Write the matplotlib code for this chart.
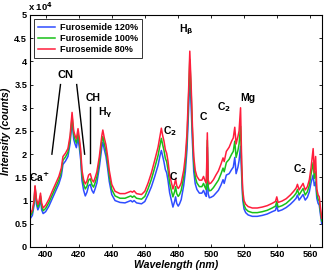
import numpy as np
import matplotlib
matplotlib.use('Agg')
import matplotlib.pyplot as plt

plt.rcParams['font.family'] = ['Liberation Sans', 'DejaVu Sans']
plt.rcParams['font.weight'] = 'bold'
plt.rcParams['mathtext.default'] = 'bf'

# wavelength (nm) and intensity (x 1e4 counts)
wavelength = [390.5, 392.0, 393.0, 393.6, 394.4, 395.3, 396.0, 396.9, 397.6, 398.5,
              400.0, 402.0, 404.0, 406.0, 408.0, 409.5, 410.5, 412.0, 413.5, 414.8,
              416.0, 417.0, 417.8, 418.6, 419.6, 420.4, 421.2, 422.0, 423.0, 424.0,
              425.0, 426.0, 427.0, 428.0, 429.0, 430.0, 431.0, 432.5, 434.0, 434.6,
              435.5, 436.5, 437.5, 438.5, 440.0, 442.0, 445.0, 448.0, 450.0, 451.5,
              452.5, 453.5, 455.0, 458.0, 460.0, 462.0, 464.0, 466.0, 468.0, 469.2,
              470.0, 470.8, 471.6, 472.4, 473.2, 474.0, 475.0, 476.0, 477.0, 478.0,
              478.6, 479.3, 480.2, 481.0, 482.0, 483.5, 484.5, 485.5, 486.5, 487.2,
              488.0, 488.8, 489.6, 490.5, 491.5, 493.0, 494.5, 495.5, 496.5, 497.2,
              497.8, 498.3, 499.0, 500.0, 501.5, 503.0, 504.5, 506.0, 507.3, 508.0,
              509.3, 511.0, 512.5, 513.5, 514.4, 515.2, 516.3, 517.0, 517.9, 518.6,
              519.2, 520.0, 521.0, 522.5, 525.0, 528.0, 531.0, 534.0, 537.0, 539.0,
              539.8, 540.6, 543.0, 545.5, 548.0, 550.0, 551.5, 552.3, 553.3, 554.5,
              555.7, 557.0, 558.3, 559.5, 560.5, 561.8, 562.5, 563.3, 564.0, 564.8,
              565.5, 566.2, 567.0]

furo_80 = [0.70, 0.80, 1.00, 1.32, 1.05, 0.92, 0.98, 1.16, 0.95, 0.84,
           0.90, 1.03, 1.20, 1.36, 1.52, 1.70, 1.95, 2.02, 2.12, 2.40,
           2.90, 2.50, 2.40, 2.33, 2.55, 2.35, 2.10, 1.65, 1.45, 1.36,
           1.42, 1.55, 1.58, 1.45, 1.40, 1.50, 1.62, 1.95, 2.40, 2.52,
           2.35, 2.20, 1.95, 1.65, 1.35, 1.20, 1.15, 1.15, 1.18, 1.20,
           1.18, 1.21, 1.15, 1.13, 1.20, 1.38, 1.60, 1.87, 2.15, 2.40,
           2.56, 2.40, 2.28, 2.10, 2.02, 1.85, 1.55, 1.40, 1.25, 1.36,
           1.47, 1.32, 1.26, 1.30, 1.38, 1.65, 1.95, 2.45, 3.40, 4.22,
           3.50, 2.60, 1.95, 1.65, 1.52, 1.44, 1.44, 1.52, 1.42, 1.38,
           2.46, 1.45, 1.36, 1.38, 1.45, 1.55, 1.64, 1.78, 1.92, 1.84,
           2.06, 2.15, 2.28, 2.35, 2.58, 2.22, 2.38, 2.50, 3.00, 1.80,
           1.23, 1.00, 0.92, 0.87, 0.84, 0.84, 0.86, 0.89, 0.94, 0.98,
           1.08, 0.96, 0.99, 1.04, 1.12, 1.20, 1.27, 1.35, 1.23, 1.30,
           1.37, 1.23, 1.30, 1.45, 1.70, 2.12, 1.60, 1.95, 1.25, 1.12,
           1.08, 0.85, 0.62]

furo_100 = [0.65, 0.75, 0.95, 1.30, 1.00, 0.86, 0.92, 1.10, 0.88, 0.78,
            0.83, 0.96, 1.12, 1.28, 1.44, 1.62, 1.87, 1.94, 2.04, 2.32,
            2.82, 2.42, 2.32, 2.24, 2.45, 2.25, 2.00, 1.55, 1.35, 1.25,
            1.31, 1.44, 1.47, 1.34, 1.29, 1.39, 1.51, 1.84, 2.28, 2.38,
            2.22, 2.07, 1.82, 1.53, 1.24, 1.10, 1.05, 1.05, 1.08, 1.10,
            1.07, 1.10, 1.05, 1.03, 1.09, 1.26, 1.46, 1.71, 1.97, 2.20,
            2.34, 2.20, 2.08, 1.91, 1.84, 1.67, 1.38, 1.22, 1.08, 1.19,
            1.30, 1.15, 1.09, 1.13, 1.22, 1.50, 1.80, 2.30, 3.25, 4.04,
            3.35, 2.46, 1.81, 1.51, 1.38, 1.30, 1.30, 1.37, 1.28, 1.24,
            2.30, 1.30, 1.21, 1.22, 1.28, 1.36, 1.44, 1.57, 1.70, 1.62,
            1.82, 1.89, 2.00, 2.06, 2.28, 1.93, 2.08, 2.22, 2.60, 1.65,
            1.12, 0.90, 0.82, 0.77, 0.74, 0.74, 0.76, 0.79, 0.84, 0.88,
            0.98, 0.86, 0.89, 0.94, 1.02, 1.09, 1.16, 1.24, 1.12, 1.19,
            1.26, 1.12, 1.19, 1.33, 1.56, 1.82, 1.48, 1.62, 1.15, 1.03,
            0.99, 0.77, 0.56]

furo_120 = [0.60, 0.68, 0.90, 1.28, 0.93, 0.80, 0.86, 1.05, 0.80, 0.72,
            0.76, 0.88, 1.04, 1.20, 1.36, 1.53, 1.78, 1.85, 1.95, 2.23,
            2.72, 2.32, 2.22, 2.14, 2.35, 2.14, 1.88, 1.43, 1.22, 1.10,
            1.18, 1.32, 1.35, 1.22, 1.16, 1.26, 1.38, 1.72, 2.15, 2.26,
            2.10, 1.95, 1.70, 1.41, 1.13, 1.00, 0.96, 0.95, 0.98, 1.00,
            0.97, 1.00, 0.95, 0.93, 0.98, 1.13, 1.30, 1.52, 1.76, 1.97,
            2.08, 1.95, 1.83, 1.67, 1.60, 1.44, 1.17, 1.01, 0.86, 0.98,
            1.08, 0.94, 0.88, 0.93, 1.02, 1.32, 1.62, 2.10, 2.98, 3.69,
            3.05, 2.25, 1.62, 1.36, 1.24, 1.16, 1.16, 1.22, 1.13, 1.09,
            2.15, 1.15, 1.06, 1.07, 1.10, 1.16, 1.22, 1.33, 1.45, 1.37,
            1.55, 1.58, 1.67, 1.72, 1.93, 1.58, 1.72, 1.86, 2.17, 1.50,
            1.02, 0.82, 0.74, 0.69, 0.66, 0.66, 0.68, 0.71, 0.76, 0.79,
            0.89, 0.77, 0.80, 0.85, 0.92, 0.99, 1.05, 1.12, 1.01, 1.07,
            1.13, 1.01, 1.07, 1.19, 1.38, 1.55, 1.32, 1.40, 1.05, 0.94,
            0.90, 0.70, 0.50]

series = [('Furosemide 120%', furo_120, '#2f4dff'),
          ('Furosemide 100%', furo_100, '#19c019'),
          ('Furosemide 80%', furo_80, '#ff1e3c')]

fig = plt.figure(figsize=(3.25, 2.72), dpi=100)
ax = fig.add_axes([0.092, 0.092, 0.898, 0.853])

for name, vals, col in series:
    ax.plot(wavelength, vals, color=col, lw=1.1, label=name)

ax.set_xlim(390.5, 567)
ax.set_ylim(0, 5)
ax.set_xticks(np.arange(400, 561, 20))
ax.set_yticks(np.arange(0, 5.01, 0.5))
ax.set_yticklabels(['0', '0.5', '1', '1.5', '2', '2.5', '3', '3.5', '4', '4.5', '5'])
ax.tick_params(direction='in', length=2.5, width=0.6, labelsize=6.6, pad=2,
               top=True, right=True)
for lab in ax.get_xticklabels() + ax.get_yticklabels():
    lab.set_fontweight('bold')
for sp in ax.spines.values():
    sp.set_linewidth(0.8)

ax.set_xlabel('Wavelength (nm)', fontsize=7.6, fontweight='bold', style='italic', labelpad=1)
ax.set_ylabel('Intensity (counts)', fontsize=7.6, fontweight='bold', style='italic', labelpad=2)
ax.text(-0.006, 1.008, r'x 10$^{4}$', transform=ax.transAxes, fontsize=6.8,
        fontweight='bold', ha='left', va='bottom')

leg = ax.legend(loc='upper left', frameon=True, fancybox=False,
                edgecolor='black', borderpad=0.4, labelspacing=0.25,
                handlelength=1.9, handletextpad=0.55, borderaxespad=0.45,
                prop={'weight': 'bold', 'size': 6.6})
leg.get_frame().set_linewidth(0.7)

# peak labels
ax.text(396, 1.49, 'Ca$^{+}$', fontsize=7.5, ha='center', va='center')
ax.text(412, 3.71, 'CN', fontsize=8, ha='center', va='center')
ax.plot([403.8, 409.0], [2.0, 3.5], color='black', lw=1)
ax.plot([418.8, 423.6], [3.5, 2.0], color='black', lw=1)
ax.text(428.6, 3.2, 'CH', fontsize=7.5, ha='center', va='center')
ax.plot([427, 427], [1.81, 3.02], color='black', lw=1)
ax.text(436, 2.9, 'H$_{γ}$', fontsize=7.5, ha='center', va='center')
ax.text(485, 4.69, 'H$_{β}$', fontsize=7.5, ha='center', va='center')
ax.text(475, 2.49, 'C$_{2}$', fontsize=7.5, ha='center', va='center')
ax.text(477.5, 1.50, 'C', fontsize=7.5, ha='center', va='center')
ax.text(495.6, 2.81, 'C', fontsize=7.5, ha='center', va='center')
ax.text(508, 3.02, 'C$_{2}$', fontsize=7.5, ha='center', va='center')
ax.text(522.5, 3.2, 'Mg', fontsize=7.5, ha='center', va='center')
ax.text(553.8, 1.68, 'C$_{2}$', fontsize=7.5, ha='center', va='center')

fig.savefig('out.png', dpi=100)
